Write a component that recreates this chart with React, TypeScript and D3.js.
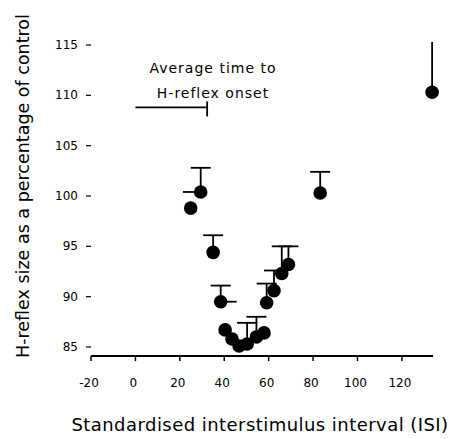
import React, { useEffect, useRef } from "react";
import * as d3 from "d3";

// Standardised ISI (x) and H-reflex size, % of control (y)
const isi = [24.9, 29.4, 35.0, 38.4, 40.4, 43.5, 46.7, 50.3, 54.5, 57.9, 59.1, 62.4, 65.9, 68.9, 83.2, 133.6];
const hSize = [98.8, 100.4, 94.4, 89.5, 86.7, 85.8, 85.1, 85.3, 86.0, 86.4, 89.4, 90.6, 92.3, 93.2, 100.3, 110.3];
// one-sided error bars (upwards) and horizontal ISI error (signed)
const sem = [0, 2.4, 1.7, 1.6, 0, 0, 0, 2.1, 2.0, 0, 1.9, 2.0, 2.7, 1.8, 2.1, 6.0];
const isiErr = [0, -8, 0, 7.2, 0, 0, 0, 0, 0, 0, 0, 0, 0, 0, 0, 0];

const xTicks = [-20, 0, 20, 40, 60, 80, 100, 120];
const yTicks = [85, 90, 95, 100, 105, 110, 115];

// average time to H-reflex onset marker
const onsetStart = 0;
const onsetEnd = 32.3;
const onsetLevel = 108.8;
const onsetLabel = ["Average time to", "H-reflex onset"];

const xTitle = "Standardised interstimulus interval (ISI)";
const yTitle = "H-reflex size as a percentage of control";

const App = () => {
  const svgRef = useRef(null);

  useEffect(() => {
    const svg = d3.select(svgRef.current);
    svg.selectAll("*").remove();
    const font = "DejaVu Sans, sans-serif";

    const x = d3.scaleLinear().domain([-20, 134]).range([91, 433]);
    const y = d3.scaleLinear().domain([85, 115]).range([347, 45]);
    const yMin = 84.1;
    const yMax = 115.3;
    const axisY = y(yMin);

    // x axis line
    svg.append("line")
      .attr("x1", x(-20)).attr("x2", x(134))
      .attr("y1", axisY).attr("y2", axisY)
      .attr("stroke", "black").attr("stroke-width", 2);

    svg.selectAll(".xtick")
      .data(xTicks)
      .enter()
      .append("line")
      .attr("x1", (d) => x(d)).attr("x2", (d) => x(d))
      .attr("y1", axisY).attr("y2", axisY + 5)
      .attr("stroke", "black").attr("stroke-width", 1.5);

    svg.selectAll(".xlab")
      .data(xTicks)
      .enter()
      .append("text")
      .attr("x", (d) => x(d) - 2)
      .attr("y", axisY + 31)
      .attr("text-anchor", "middle")
      .attr("font-family", font)
      .attr("font-size", 12)
      .text((d) => d);

    // y ticks (no axis line)
    svg.selectAll(".ytick")
      .data(yTicks)
      .enter()
      .append("line")
      .attr("x1", 86).attr("x2", 91)
      .attr("y1", (d) => y(d)).attr("y2", (d) => y(d))
      .attr("stroke", "black").attr("stroke-width", 1.2);

    svg.selectAll(".ylab")
      .data(yTicks)
      .enter()
      .append("text")
      .attr("x", 78)
      .attr("y", (d) => y(d) + 4)
      .attr("text-anchor", "end")
      .attr("font-family", font)
      .attr("font-size", 12)
      .text((d) => d);

    // error bars
    const pts = isi.map((v, i) => ({ x: v, y: hSize[i], e: sem[i], xe: isiErr[i] }));
    const capW = 10;
    pts.forEach((p) => {
      if (p.e > 0) {
        const top = Math.min(p.y + p.e, yMax);
        svg.append("line")
          .attr("x1", x(p.x)).attr("x2", x(p.x))
          .attr("y1", y(p.y)).attr("y2", y(top))
          .attr("stroke", "black").attr("stroke-width", 1.8);
        if (p.y + p.e <= yMax) {
          svg.append("line")
            .attr("x1", x(p.x) - capW).attr("x2", x(p.x) + capW)
            .attr("y1", y(top)).attr("y2", y(top))
            .attr("stroke", "black").attr("stroke-width", 1.8);
        }
      }
      if (p.xe !== 0) {
        svg.append("line")
          .attr("x1", x(p.x)).attr("x2", x(p.x + p.xe))
          .attr("y1", y(p.y)).attr("y2", y(p.y))
          .attr("stroke", "black").attr("stroke-width", 1.8);
      }
    });

    // points
    svg.selectAll(".pt")
      .data(pts)
      .enter()
      .append("circle")
      .attr("cx", (d) => x(d.x))
      .attr("cy", (d) => y(d.y))
      .attr("r", 6.8)
      .attr("fill", "black");

    // onset annotation
    svg.append("line")
      .attr("x1", x(onsetStart)).attr("x2", x(onsetEnd))
      .attr("y1", y(onsetLevel)).attr("y2", y(onsetLevel))
      .attr("stroke", "black").attr("stroke-width", 1.8);
    svg.append("line")
      .attr("x1", x(onsetEnd)).attr("x2", x(onsetEnd))
      .attr("y1", y(onsetLevel) - 6).attr("y2", y(onsetLevel) + 9)
      .attr("stroke", "black").attr("stroke-width", 1.8);
    svg.selectAll(".onset")
      .data(onsetLabel)
      .enter()
      .append("text")
      .attr("x", 213)
      .attr("y", (d, i) => 73 + i * 25)
      .attr("text-anchor", "middle")
      .attr("font-family", font)
      .attr("font-size", 14)
      .attr("letter-spacing", 1)
      .text((d) => d);

    // axis titles
    svg.append("text")
      .attr("x", 260)
      .attr("y", 431)
      .attr("text-anchor", "middle")
      .attr("font-family", font)
      .attr("font-size", 18)
      .attr("letter-spacing", 0.45)
      .text(xTitle);

    svg.append("text")
      .attr("transform", "translate(29,358) rotate(-90)")
      .attr("text-anchor", "start")
      .attr("font-family", font)
      .attr("font-size", 17.5)
      .text(yTitle);
  }, []);

  return (
    <svg
      ref={svgRef}
      width={451}
      height={439}
      style={{ position: "absolute", left: 0, top: 0, background: "white" }}
    ></svg>
  );
};

export default App;
